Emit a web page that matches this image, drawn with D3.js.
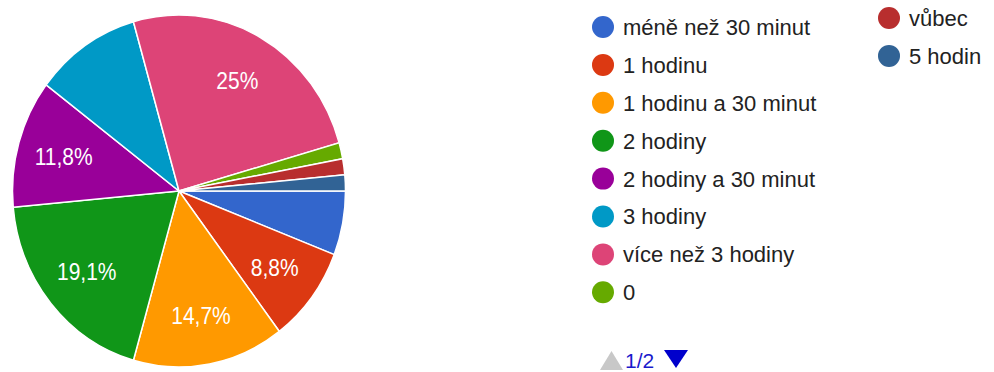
<!DOCTYPE html>
<html>
<head>
<meta charset="utf-8">
<script src="https://cdn.jsdelivr.net/npm/d3@7"></script>
<style>
  html, body { margin: 0; padding: 0; background: #fff; }
  svg { display: block; font-family: "Liberation Sans", Arial, sans-serif; }
</style>
</head>
<body>
<svg id="chart" width="994" height="372"></svg>
<script>
// Answers and how many respondents picked each one
const categories = [
  "méně než 30 minut", "1 hodinu", "1 hodinu a 30 minut", "2 hodiny",
  "2 hodiny a 30 minut", "3 hodiny", "více než 3 hodiny", "0", "vůbec", "5 hodin"
];
const counts = [4, 6, 10, 13, 8, 7, 17, 1, 1, 1];
const colors = [
  "#3366cc", "#dc3912", "#ff9900", "#109618", "#990099",
  "#0099c6", "#dd4477", "#66aa00", "#b82e2e", "#316395"
];
// Slices large enough to carry a percentage label
const labelled = ["1 hodinu", "1 hodinu a 30 minut", "2 hodiny", "2 hodiny a 30 minut", "více než 3 hodiny"];
// Legend pages: first column, second column, pager text
const legendCol1 = categories.slice(0, 8);
const legendCol2 = categories.slice(8);
const pagerText = "1/2";

const svg = d3.select("#chart");
const total = d3.sum(counts);
const data = categories.map((c, i) => ({ name: c, value: counts[i], color: colors[i] }));

const cx = 179, cy = 191, r = 166.5, sy = 176 / 166.5;

const pie = d3.pie().value(d => d.value).sort(null)
  .startAngle(Math.PI / 2).endAngle(Math.PI / 2 + 2 * Math.PI);
const arcs = pie(data);
const arc = d3.arc().innerRadius(0).outerRadius(r);
const labelArc = d3.arc().innerRadius(r * 0.72).outerRadius(r * 0.72);

const g = svg.append("g").attr("transform", `translate(${cx},${cy})`);
g.append("g").attr("transform", `scale(1,${sy})`)
  .selectAll("path").data(arcs).join("path")
  .attr("d", arc)
  .attr("fill", d => d.data.color)
  .attr("stroke", "#fff")
  .attr("stroke-width", 1.5)
  .attr("vector-effect", "non-scaling-stroke");

const fmt = v => {
  const p = Math.round(v / total * 1000) / 10;
  return (Number.isInteger(p) ? String(p) : p.toFixed(1).replace(".", ",")) + "%";
};

g.selectAll("text.pct").data(arcs.filter(d => labelled.includes(d.data.name)))
  .join("text").attr("class", "pct")
  .attr("transform", d => {
    const [x, y] = labelArc.centroid(d);
    return `translate(${x},${y * sy}) scale(1,1.12)`;
  })
  .attr("text-anchor", "middle")
  .attr("dy", "0.36em")
  .attr("fill", "#fff")
  .attr("font-size", 21)
  .text(d => fmt(d.data.value));

// Legend
const colorOf = d3.scaleOrdinal().domain(categories).range(colors);
function legendColumn(names, x, y0, step) {
  const rows = svg.append("g").selectAll("g").data(names).join("g")
    .attr("transform", (d, i) => `translate(${x},${y0 + i * step})`);
  rows.append("circle").attr("r", 11).attr("fill", d => colorOf(d));
  rows.append("text").attr("x", 20).attr("dy", "0.36em")
    .attr("font-size", 22).attr("fill", "#222").text(d => d);
}
legendColumn(legendCol1, 603, 27, 37.9);
legendColumn(legendCol2, 889, 18, 37.9);

// Pager
const pager = svg.append("g").attr("transform", "translate(600,360)");
pager.append("path").attr("d", "M0,10 L11.5,-9 L23,10 Z").attr("fill", "#c8c8c8");
pager.append("text").attr("x", 25).attr("y", 8).attr("font-size", 21)
  .attr("fill", "#1a1acc").text(pagerText);
pager.append("path").attr("d", "M64,-10 L88,-10 L76,8 Z").attr("fill", "#0000cc");
</script>
</body>
</html>
